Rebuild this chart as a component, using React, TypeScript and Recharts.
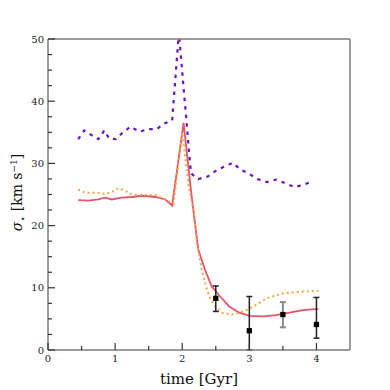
import { ComposedChart, ErrorBar, Line, Scatter, XAxis, YAxis, ZAxis } from "recharts";

// simulation curves: time [Gyr] and sigma_* [km/s]
const purpleTime = [0.45, 0.54, 0.67, 0.75, 0.84, 0.91, 1.01, 1.12, 1.23, 1.36, 1.49, 1.62, 1.73, 1.85, 1.95, 2.13, 2.24, 2.38, 2.5, 2.63, 2.75, 2.87, 3.0, 3.12, 3.26, 3.4, 3.54, 3.67, 3.79, 3.94];
const purpleSigma = [33.9, 35.3, 34.4, 33.9, 35.3, 34.0, 33.9, 35.0, 35.9, 35.1, 35.5, 35.5, 36.4, 36.9, 51.0, 28.4, 27.5, 27.9, 28.8, 29.5, 30.1, 29.0, 28.3, 27.5, 27.0, 27.4, 26.8, 26.2, 26.5, 27.1];

const orangeTime = [0.45, 0.55, 0.7, 0.85, 0.95, 1.05, 1.15, 1.25, 1.4, 1.6, 1.75, 1.87, 2.0, 2.1, 2.17, 2.22, 2.29, 2.37, 2.42, 2.49, 2.59, 2.74, 2.92, 3.09, 3.26, 3.5, 3.8, 4.03];
const orangeSigma = [25.8, 25.3, 25.3, 25.1, 25.4, 26.0, 25.6, 25.0, 24.9, 24.9, 24.2, 23.5, 35.0, 26.0, 22.5, 17.2, 12.9, 9.6, 8.3, 7.0, 6.0, 5.7, 6.2, 7.2, 8.3, 9.1, 9.4, 9.5];

const redTime = [0.45, 0.6, 0.75, 0.85, 0.95, 1.1, 1.25, 1.4, 1.6, 1.75, 1.85, 2.02, 2.13, 2.19, 2.24, 2.34, 2.44, 2.55, 2.7, 2.85, 3.0, 3.2, 3.4, 3.6, 3.8, 4.03];
const redSigma = [24.1, 24.0, 24.2, 24.5, 24.2, 24.5, 24.6, 24.8, 24.6, 24.2, 23.2, 36.5, 25.7, 20.4, 16.1, 12.9, 10.2, 8.8, 7.0, 6.0, 5.5, 5.4, 5.6, 6.0, 6.4, 6.6];

// observations with asymmetric errors [below, above]
const obsTime = [2.5, 3.0, 4.0];
const obsSigma = [8.3, 3.1, 4.1];
const obsErr: [number, number][] = [[2.1, 2.0], [3.1, 5.5], [2.2, 4.35]];
const obsGreyTime = [3.5];
const obsGreySigma = [5.7];
const obsGreyErr: [number, number][] = [[2.05, 2.0]];

const xTicks = [0, 0.5, 1, 1.5, 2, 2.5, 3, 3.5, 4];
const yTicks = [0, 2.5, 5, 7.5, 10, 12.5, 15, 17.5, 20, 22.5, 25, 27.5, 30, 32.5, 35, 37.5, 40, 42.5, 45, 47.5, 50];

const FONT = "DejaVu Serif, serif";
const FRAME = "#7a7a7a";
const TICK = "#333";

const zip = (t: number[], v: number[]) => t.map((time, i) => ({ t: time, v: v[i] }));
const purpleData = zip(purpleTime, purpleSigma);
const orangeData = zip(orangeTime, orangeSigma);
const redData = zip(redTime, redSigma);
const obsData = obsTime.map((t, i) => ({ t, v: obsSigma[i], err: obsErr[i] }));
const obsGreyData = obsGreyTime.map((t, i) => ({ t, v: obsGreySigma[i], err: obsGreyErr[i] }));

const majorX = (v: number) => Number.isInteger(v);
const majorY = (v: number) => v % 10 === 0;

function BottomTick({ x, y, payload }: any) {
    const major = majorX(payload.value);
    return (
        <g>
            <line x1={x} y1={y} x2={x} y2={y - (major ? 7 : 4)} stroke={TICK} strokeWidth={1.2} />
            {major && (
                <text x={x} y={y + 12} textAnchor="middle" fontSize={10} fill="#222" fontFamily={FONT}>
                    {payload.value}
                </text>
            )}
        </g>
    );
}

function TopTick({ x, y, payload }: any) {
    const major = majorX(payload.value);
    return <line x1={x} y1={y} x2={x} y2={y + (major ? 7 : 4)} stroke={TICK} strokeWidth={1.2} />;
}

function LeftTick({ x, y, payload }: any) {
    const major = majorY(payload.value);
    return (
        <g>
            <line x1={x} y1={y} x2={x + (major ? 7 : 4)} y2={y} stroke={TICK} strokeWidth={1.2} />
            {major && (
                <text x={x - 4} y={y + 3.5} textAnchor="end" fontSize={10} fill="#222" fontFamily={FONT}>
                    {payload.value}
                </text>
            )}
        </g>
    );
}

function RightTick({ x, y, payload }: any) {
    const major = majorY(payload.value);
    return <line x1={x} y1={y} x2={x - (major ? 7 : 4)} y2={y} stroke={TICK} strokeWidth={1.2} />;
}

export default function App() {
    return (
        <ComposedChart width={382} height={382} margin={{ top: 0, right: 0, bottom: 0, left: 0 }}>
            <XAxis
                dataKey="t"
                type="number"
                domain={[0, 4.5]}
                ticks={xTicks}
                interval={0}
                height={40}
                tickSize={0}
                tickMargin={0}
                tickLine={false}
                tick={BottomTick}
                axisLine={{ stroke: FRAME, strokeWidth: 1.5 }}
                allowDataOverflow
                label={{
                    content: ({ viewBox }: any) => (
                        <text
                            x={viewBox.x + viewBox.width / 2}
                            y={viewBox.y + 34}
                            textAnchor="middle"
                            fontSize={15}
                            fill="#111"
                            fontFamily={FONT}
                        >
                            time [Gyr]
                        </text>
                    ),
                }}
            />
            <XAxis
                xAxisId="top"
                orientation="top"
                type="number"
                domain={[0, 4.5]}
                ticks={xTicks}
                interval={0}
                height={31}
                tickSize={0}
                tickMargin={0}
                tickLine={false}
                tick={TopTick}
                axisLine={{ stroke: FRAME, strokeWidth: 1.5 }}
            />
            <YAxis
                type="number"
                domain={[0, 50]}
                ticks={yTicks}
                interval={0}
                width={40}
                tickSize={0}
                tickMargin={0}
                tickLine={false}
                tick={LeftTick}
                axisLine={{ stroke: FRAME, strokeWidth: 1.5 }}
                allowDataOverflow
                label={{
                    content: ({ viewBox }: any) => {
                        const cx = 14;
                        const cy = viewBox.y + viewBox.height / 2 - 2;
                        return (
                            <text
                                x={cx}
                                y={cy}
                                transform={`rotate(-90 ${cx} ${cy})`}
                                textAnchor="middle"
                                fontSize={14}
                                fill="#111"
                                fontFamily={FONT}
                            >
                                <tspan fontStyle="italic">σ</tspan>
                                <tspan dy={4} fontSize={10}>⋆</tspan>
                                <tspan dy={-4}> [km s</tspan>
                                <tspan dy={-5} fontSize={9}>−1</tspan>
                                <tspan dy={5}>]</tspan>
                            </text>
                        );
                    },
                }}
            />
            <YAxis
                yAxisId="right"
                orientation="right"
                type="number"
                domain={[0, 50]}
                ticks={yTicks}
                interval={0}
                width={40}
                tickSize={0}
                tickMargin={0}
                tickLine={false}
                tick={RightTick}
                axisLine={{ stroke: FRAME, strokeWidth: 1.5 }}
            />
            <ZAxis range={[28, 28]} />

            <Line
                data={redData}
                dataKey="v"
                type="linear"
                stroke="#e0556a"
                strokeWidth={1.8}
                dot={false}
                isAnimationActive={false}
            />
            <Line
                data={orangeData}
                dataKey="v"
                type="linear"
                stroke="#f9a340"
                strokeWidth={2}
                strokeDasharray="2 3"
                dot={false}
                isAnimationActive={false}
            />
            <Line
                data={purpleData}
                dataKey="v"
                type="linear"
                stroke="#6e14c0"
                strokeWidth={2.2}
                strokeDasharray="3.5 5"
                dot={false}
                isAnimationActive={false}
            />
            <Scatter data={obsGreyData} dataKey="v" fill="#000" shape="square" isAnimationActive={false}>
                <ErrorBar dataKey="err" direction="y" width={3} stroke="#8a8a8a" strokeWidth={2} isAnimationActive={false} />
            </Scatter>
            <Scatter data={obsData} dataKey="v" fill="#000" shape="square" isAnimationActive={false}>
                <ErrorBar dataKey="err" direction="y" width={3} stroke="#222" strokeWidth={1.5} isAnimationActive={false} />
            </Scatter>
        </ComposedChart>
    );
}
